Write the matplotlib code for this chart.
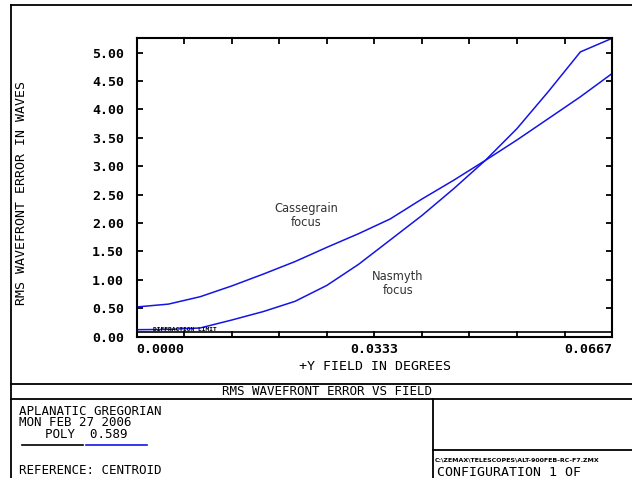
import numpy as np
import matplotlib
matplotlib.use('Agg')
import matplotlib.pyplot as plt
from matplotlib.lines import Line2D
from matplotlib.ticker import FixedLocator

W, H = 632, 478
MONO = 'DejaVu Sans Mono'

# field points (degrees) and rms wavefront error (waves)
field = [0.0, 0.00444, 0.00889, 0.01333, 0.01778, 0.02222, 0.02667, 0.03111,
         0.03556, 0.04, 0.04444, 0.04889, 0.05333, 0.05778, 0.06222, 0.06667]
cassegrain = [0.52, 0.57, 0.70, 0.89, 1.10, 1.32, 1.57, 1.81,
              2.07, 2.42, 2.75, 3.10, 3.46, 3.84, 4.22, 4.63]
nasmyth = [0.12, 0.125, 0.15, 0.29, 0.44, 0.62, 0.90, 1.27,
           1.70, 2.13, 2.60, 3.10, 3.66, 4.32, 5.01, 5.25]
diffraction_limit = 0.072

y_ticks = [0.0, 0.5, 1.0, 1.5, 2.0, 2.5, 3.0, 3.5, 4.0, 4.5, 5.0]
x_major = [0.0, 0.0333, 0.0667]
x_labels = ['0.0000', '0.0333', '0.0667']
x_minor = [0.0, 0.00667, 0.01333, 0.02, 0.02667, 0.03333, 0.04, 0.04667,
           0.05333, 0.06, 0.06667]

line_blue = '#1414e6'


def fx(x):
    return x / W


def fy(y):
    return 1 - y / H


def hline(fig, x0, x1, y, lw=1.3, color='black'):
    fig.add_artist(Line2D([fx(x0), fx(x1)], [fy(y), fy(y)], color=color, lw=lw))


def vline(fig, x, y0, y1, lw=1.3, color='black'):
    fig.add_artist(Line2D([fx(x), fx(x)], [fy(y0), fy(y1)], color=color, lw=lw))


fig = plt.figure(figsize=(W / 100, H / 100), dpi=100)

# main plot box
left, right, top, bottom = 136.7, 612.3, 38.3, 336.5
ax = fig.add_axes([fx(left), fy(bottom), (right - left) / W, (bottom - top) / H])
ax.plot(field, cassegrain, color=line_blue, lw=1.1)
ax.plot(field, nasmyth, color=line_blue, lw=1.1)
ax.axhline(diffraction_limit, color='black', lw=1.2)
ax.text(0.0023, diffraction_limit + 0.01, 'DIFFRACTION LIMIT', fontsize=4.5,
        fontweight='bold', family=MONO, va='bottom', ha='left')

ax.set_xlim(0, 0.0667)
ax.set_ylim(0, 5.25)
for sp in ax.spines.values():
    sp.set_linewidth(1.5)

ax.set_yticks(y_ticks)
ax.set_yticklabels(['%.2f' % v for v in y_ticks])
ax.xaxis.set_major_locator(FixedLocator(x_major))
ax.set_xticklabels(x_labels)
ax.xaxis.set_minor_locator(FixedLocator(x_minor))
ax.tick_params(which='both', direction='in', top=True, right=True,
               length=4, width=1.3)
ax.tick_params(axis='x', which='major', length=0, pad=5)
ax.tick_params(axis='y', pad=9)
for lab in ax.get_xticklabels() + ax.get_yticklabels():
    lab.set_family(MONO)
    lab.set_fontsize(9.5)
    lab.set_fontweight('bold')
xl = ax.get_xticklabels()
xl[0].set_ha('left')
xl[2].set_ha('right')

# curve annotations
ax.text(0.356, 0.405, 'Cassegrain\nfocus', transform=ax.transAxes, ha='center',
        va='center', fontsize=8.3, color='#333333', linespacing=1.05)
ax.text(0.549, 0.178, 'Nasmyth\nfocus', transform=ax.transAxes, ha='center',
        va='center', fontsize=8.3, color='#333333', linespacing=1.05)

fig.text(fx(22), fy(193), 'RMS WAVEFRONT ERROR IN WAVES', rotation=90,
         ha='center', va='center', family=MONO, fontsize=9.5)
fig.text(fx(375), fy(366), '+Y FIELD IN DEGREES', ha='center', va='center',
         family=MONO, fontsize=9.5)

# outer frame and info panel
hline(fig, 10.7, W, 5)
vline(fig, 10.7, 5, H)
hline(fig, 10.7, W, 384)
hline(fig, 10.7, W, 399)
vline(fig, 432.5, 399, H)
hline(fig, 432.5, W, 450)

fig.text(fx(327), fy(391.5), 'RMS WAVEFRONT ERROR VS FIELD', ha='center',
         va='center', family=MONO, fontsize=9)
fig.text(fx(19), fy(414.7), 'APLANATIC GREGORIAN', ha='left', va='baseline',
         family=MONO, fontsize=9)
fig.text(fx(19), fy(426.3), 'MON FEB 27 2006', ha='left', va='baseline',
         family=MONO, fontsize=9)
fig.text(fx(45), fy(438), 'POLY  0.589', ha='left', va='baseline',
         family=MONO, fontsize=9)
hline(fig, 21.7, 83.3, 445.3, lw=1.2, color='black')
hline(fig, 86, 146.7, 445.3, lw=1.2, color=line_blue)
fig.text(fx(19), fy(474), 'REFERENCE: CENTROID', ha='left', va='baseline',
         family=MONO, fontsize=9)

fig.text(fx(435), fy(461), r'C:\ZEMAX\TELESCOPES\ALT-900FEB-RC-F7.ZMX',
         ha='left', va='baseline', family='DejaVu Sans', fontsize=4.5,
         fontweight='bold')
fig.text(fx(437), fy(476.5), 'CONFIGURATION 1 OF', ha='left', va='baseline',
         family=MONO, fontsize=9.5)

fig.savefig('out.png', dpi=100)
